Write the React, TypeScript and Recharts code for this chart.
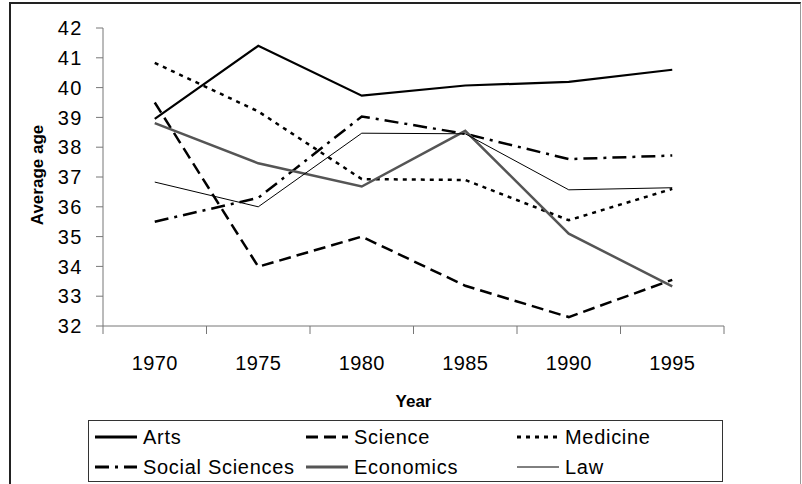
import React from 'react';
import { LineChart, Line, XAxis, YAxis, Legend } from 'recharts';

const years = ['1970', '1975', '1980', '1985', '1990', '1995'];
const arts = [38.95, 41.4, 39.73, 40.07, 40.19, 40.6];
const science = [39.5, 33.99, 35.0, 33.35, 32.3, 33.55];
const medicine = [40.83, 39.2, 36.93, 36.9, 35.55, 36.6];
const socialSciences = [35.5, 36.3, 39.03, 38.45, 37.6, 37.72];
const economics = [38.81, 37.46, 36.68, 38.55, 35.1, 33.33];
const law = [36.83, 36.0, 38.47, 38.45, 36.57, 36.64];
const yTicks = [32, 33, 34, 35, 36, 37, 38, 39, 40, 41, 42];

const series = [
  { key: 'arts', name: 'Arts', values: arts, stroke: '#000000', width: 2.2, dash: undefined as string | undefined },
  { key: 'science', name: 'Science', values: science, stroke: '#000000', width: 2.5, dash: '12 6' },
  { key: 'medicine', name: 'Medicine', values: medicine, stroke: '#000000', width: 2.5, dash: '4 5' },
  { key: 'social', name: 'Social Sciences', values: socialSciences, stroke: '#000000', width: 2.5, dash: '14 6 3 6' },
  { key: 'economics', name: 'Economics', values: economics, stroke: '#555555', width: 2.5, dash: undefined },
  { key: 'law', name: 'Law', values: law, stroke: '#000000', width: 1, dash: undefined },
];

const data = years.map((year, i) => {
  const row: Record<string, string | number> = { year };
  series.forEach((s) => {
    row[s.key] = s.values[i];
  });
  return row;
});

const W = 802;
const H = 484;
const MARGIN = { top: 28, right: 78, bottom: 78, left: 0 };
const Y_W = 103;
const X_H = 80;
const PLOT_W = W - MARGIN.left - MARGIN.right - Y_W;
const FONT = '"Liberation Sans", Arial, sans-serif';

const XTick = (props: any) => {
  const { x, y, payload, index } = props;
  const bw = PLOT_W / years.length;
  return (
    <g>
      <line x1={x - bw / 2} x2={x - bw / 2} y1={y} y2={y + 8} stroke="#777" strokeWidth={1} />
      {index === years.length - 1 && (
        <line x1={x + bw / 2} x2={x + bw / 2} y1={y} y2={y + 8} stroke="#777" strokeWidth={1} />
      )}
      <text x={x} y={y + 44} textAnchor="middle" fontSize={20} fill="#000" fontFamily={FONT} letterSpacing={0.4}>
        {payload.value}
      </text>
    </g>
  );
};

const YLabel = (p: any) => {
  const vb = p.viewBox;
  const cx = vb.x + 37;
  const cy = vb.y + vb.height / 2 - 2;
  return (
    <text
      x={cx}
      y={cy}
      transform={`rotate(-90 ${cx} ${cy})`}
      textAnchor="middle"
      dominantBaseline="central"
      fontSize={17}
      fontWeight="bold"
      fill="#000"
      fontFamily={FONT}
    >
      Average age
    </text>
  );
};

const XLabel = (p: any) => {
  const vb = p.viewBox;
  return (
    <text
      x={vb.x + vb.width / 2}
      y={vb.y + 81}
      textAnchor="middle"
      fontSize={17}
      fontWeight="bold"
      fill="#000"
      fontFamily={FONT}
    >
      Year
    </text>
  );
};

const renderLegend = () => (
  <div
    style={{
      boxSizing: 'border-box',
      width: 635,
      height: 62,
      border: '1px solid #333',
      background: '#fff',
      paddingTop: 1,
      display: 'grid',
      gridTemplateColumns: '211px 211px 211px',
      gridTemplateRows: '30px 30px',
      fontFamily: FONT,
      fontSize: 20,
      letterSpacing: 0.7,
      color: '#000',
    }}
  >
    {series.map((s) => (
      <div key={s.key} style={{ display: 'flex', alignItems: 'center', height: 30 }}>
        <svg width={54} height={10} style={{ display: 'block' }}>
          <line
            x1={6}
            x2={48}
            y1={5}
            y2={5}
            stroke={s.stroke}
            strokeWidth={s.width === 1 ? 1 : 3}
            strokeDasharray={s.dash}
          />
        </svg>
        <span style={{ lineHeight: '30px', whiteSpace: 'nowrap' }}>{s.name}</span>
      </div>
    ))}
  </div>
);

export default function App() {
  return (
    <div style={{ position: 'absolute', left: 0, top: 0, width: W, height: H, background: '#fff', fontFamily: FONT }}>
      <div
        style={{
          position: 'absolute',
          left: 9,
          top: 2,
          width: 792,
          height: 500,
          boxSizing: 'border-box',
          borderLeft: '2px solid #222',
          borderTop: '2px solid #222',
          borderRight: '1px solid #999',
        }}
      />
      <div style={{ position: 'absolute', left: 0, top: 0 }}>
        <LineChart width={W} height={H} data={data} margin={MARGIN}>
          <XAxis
            xAxisId="b"
            dataKey="year"
            type="category"
            scale="band"
            height={X_H}
            tickSize={0}
            tickMargin={0}
            tickLine={false}
            axisLine={{ stroke: '#777', strokeWidth: 1 }}
            tick={<XTick />}
            interval={0}
            label={XLabel}
          />
          <XAxis
            xAxisId="t"
            dataKey="year"
            type="category"
            scale="band"
            orientation="top"
            height={0}
            tick={false}
            tickLine={false}
            axisLine={{ stroke: '#999', strokeWidth: 1 }}
          />
          <YAxis
            yAxisId="l"
            type="number"
            domain={[32, 42]}
            ticks={yTicks}
            interval={0}
            width={Y_W}
            tickSize={7}
            tickMargin={13}
            tickLine={{ stroke: '#777' }}
            axisLine={{ stroke: '#777', strokeWidth: 1 }}
            tick={{ fontSize: 20, fill: '#000', fontFamily: FONT, letterSpacing: 1.5 }}
            label={YLabel}
          />
          <YAxis
            yAxisId="r"
            orientation="right"
            type="number"
            domain={[32, 42]}
            width={0}
            tick={false}
            tickLine={false}
            axisLine={{ stroke: '#999', strokeWidth: 1 }}
          />
          {series.map((s) => (
            <Line
              key={s.key}
              xAxisId="b"
              yAxisId="l"
              type="linear"
              dataKey={s.key}
              name={s.name}
              stroke={s.stroke}
              strokeWidth={s.width}
              strokeDasharray={s.dash}
              dot={false}
              activeDot={false}
              isAnimationActive={false}
            />
          ))}
          <Legend
            layout="horizontal"
            verticalAlign="middle"
            align="center"
            width={635}
            height={62}
            wrapperStyle={{ position: 'absolute', left: 88, top: 420, width: 635, height: 62 }}
            content={renderLegend}
          />
        </LineChart>
      </div>
    </div>
  );
}
